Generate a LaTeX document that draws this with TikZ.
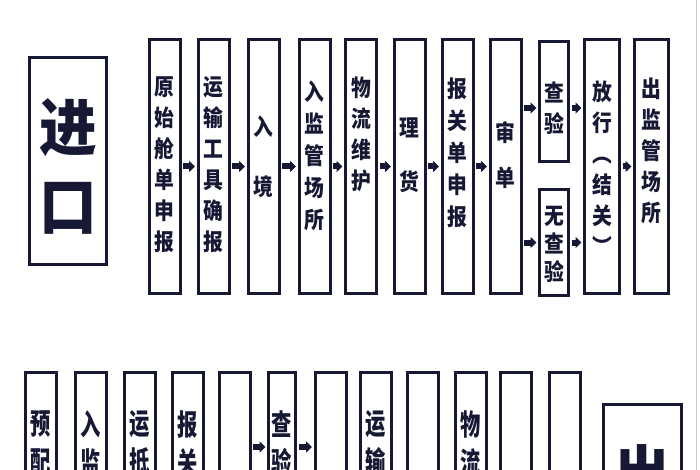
\documentclass[tikz,border=0pt]{standalone}
\usepackage{fontspec}
\usetikzlibrary{arrows.meta}
\newfontfamily\cjk[FakeStretch=0.86]{Noto Sans CJK SC}
\newfontfamily\cjktall[FakeStretch=0.7]{Noto Sans CJK SC}
\newfontfamily\cjkbig[FakeStretch=0.93]{Noto Sans CJK SC}
\definecolor{ink}{RGB}{22,24,52}
\definecolor{edge}{RGB}{192,198,214}
\newcommand{\colh}{254pt}

\begin{document}
\begin{tikzpicture}[x=1pt, y=-1pt,
    rect/.style={draw=ink, rectangle, line width=3pt, minimum width=31pt, minimum height=\colh, inner sep=0pt},
    word/.style={text=ink, align=center, inner sep=0pt, font=\cjk\bfseries\fontsize{23}{#1}\selectfont},
    word/.default=31,
    tall/.style={text=ink, align=center, inner sep=0pt, anchor=north, font=\cjktall\bfseries\fontsize{29}{38}\selectfont},
    big/.style={text=ink, align=center, inner sep=0pt, font=\cjkbig\bfseries\fontsize{62}{79}\selectfont},
    flow/.style={draw=ink, line width=6pt, -{Triangle[length=6pt,width=11pt]}, shorten <=1.5pt, shorten >=1.5pt}]
    \useasboundingbox (0,0) rectangle (700,470);
    \clip (0,0) rectangle (700,470);

    % First row
    \node[rect, minimum width=77pt, minimum height=207pt] (in-box) at (68,161) {};
    \node[big] (in-txt) at (68,166.5) {进\\口};

    \node[rect] (rect-1-1) at (164.5,166.5) {};
    \node[rect] (rect-1-2) at (213.5,166.5) {};
    \node[rect] (rect-1-3) at (263.5,166.5) {};
    \node[rect] (rect-1-4) at (314.5,166.5) {};
    \node[rect] (rect-1-5) at (361,166.5) {};
    \node[rect] (rect-1-6) at (409.5,166.5) {};
    \node[rect] (rect-1-7) at (457.5,166.5) {};
    \node[rect] (rect-1-8) at (505.5,166.5) {};
    \node[rect, minimum width=29pt, minimum height=120pt] (rect-1-9) at (554,101.5) {};
    \node[rect, minimum width=29pt, minimum height=106pt] (rect-1-10) at (554,242.5) {};
    \node[rect, minimum width=35pt] (rect-1-11) at (602,166.5) {};
    \node[rect, minimum width=34pt] (rect-1-12) at (651.5,166.5) {};

    \node[word] (txt-1-1) at (164.5,165) {原\\始\\舱\\单\\申\\报};
    \node[word] (txt-1-2) at (213.5,165) {运\\输\\工\\具\\确\\报};
    \node[word=60] (txt-1-3) at (263.5,157) {入\\境};
    \node[word=32] (txt-1-4) at (314.5,156) {入\\监\\管\\场\\所};
    \node[word] (txt-1-5) at (361,134) {物\\流\\维\\护};
    \node[word=54] (txt-1-6) at (409.5,155) {理\\货};
    \node[word=32] (txt-1-7) at (457.5,153) {报\\关\\单\\申\\报};
    \node[word=45] (txt-1-8) at (505.5,155) {审\\单};
    \node[word] (txt-1-9) at (554,108) {查\\验};
    \node[word=28] (txt-1-10) at (554,244) {无\\查\\验};
    \node[word] (txt-1-11) at (602,168) {放\\行\\︵\\结\\关\\︶};
    \node[word] (txt-1-12) at (651.5,151) {出\\监\\管\\场\\所};

    \draw[flow] (rect-1-1.east) -- (rect-1-2.west);
    \draw[flow] (rect-1-2.east) -- (rect-1-3.west);
    \draw[flow] (rect-1-3.east) -- (rect-1-4.west);
    \draw[flow] (rect-1-4.east) -- (rect-1-5.west);
    \draw[flow] (rect-1-5.east) -- (rect-1-6.west);
    \draw[flow] (rect-1-6.east) -- (rect-1-7.west);
    \draw[flow] (rect-1-7.east) -- (rect-1-8.west);
    \draw[flow, transform canvas={yshift=-6.5pt}] (rect-1-8.east |- rect-1-9.west) -- (rect-1-9.west);
    \draw[flow, transform canvas={yshift=-6.5pt}] (rect-1-9.east) -- (rect-1-11.west |- rect-1-9.east);
    \draw[flow] (rect-1-8.east |- rect-1-10.west) -- (rect-1-10.west);
    \draw[flow] (rect-1-10.east) -- (rect-1-11.west |- rect-1-10.east);
    \draw[flow] (rect-1-11.east) -- (rect-1-12.west);

    % Second row
    \node[rect] (rect-2-1) at (41,499.5) {};
    \node[rect] (rect-2-2) at (90.5,499.5) {};
    \node[rect] (rect-2-3) at (139.5,499.5) {};
    \node[rect] (rect-2-4) at (187.5,499.5) {};
    \node[rect] (rect-2-5) at (234.5,499.5) {};
    \node[rect, minimum width=27pt] (rect-2-6) at (282,499.5) {};
    \node[rect] (rect-2-7) at (330.5,499.5) {};
    \node[rect] (rect-2-8) at (375.5,499.5) {};
    \node[rect] (rect-2-9) at (422.5,499.5) {};
    \node[rect] (rect-2-10) at (470.5,499.5) {};
    \node[rect] (rect-2-11) at (515.5,499.5) {};
    \node[rect] (rect-2-12) at (564.5,499.5) {};
    \node[rect, minimum width=78pt, minimum height=207pt] (out-box) at (642.5,508) {};
    \node[big] (out-txt) at (642.5,474) {出};

    \node[tall] (txt-2-1) at (41,410) {预\\配};
    \node[tall] (txt-2-2) at (90.5,410) {入\\监};
    \node[tall] (txt-2-3) at (139.5,410) {运\\抵};
    \node[tall] (txt-2-4) at (187.5,410) {报\\关};
    \node[tall] (txt-2-6) at (282,410) {查\\验};
    \node[tall] (txt-2-8) at (375.5,410) {运\\输};
    \node[tall] (txt-2-10) at (470.5,410) {物\\流};

    \draw[flow] ([yshift=52.5pt]rect-2-5.east) -- ([yshift=52.5pt]rect-2-6.west);
    \draw[flow] ([yshift=52.5pt]rect-2-6.east) -- ([yshift=52.5pt]rect-2-7.west);

    \draw[edge, line width=1pt] (696,0) -- (696,470);
\end{tikzpicture}
\end{document}
